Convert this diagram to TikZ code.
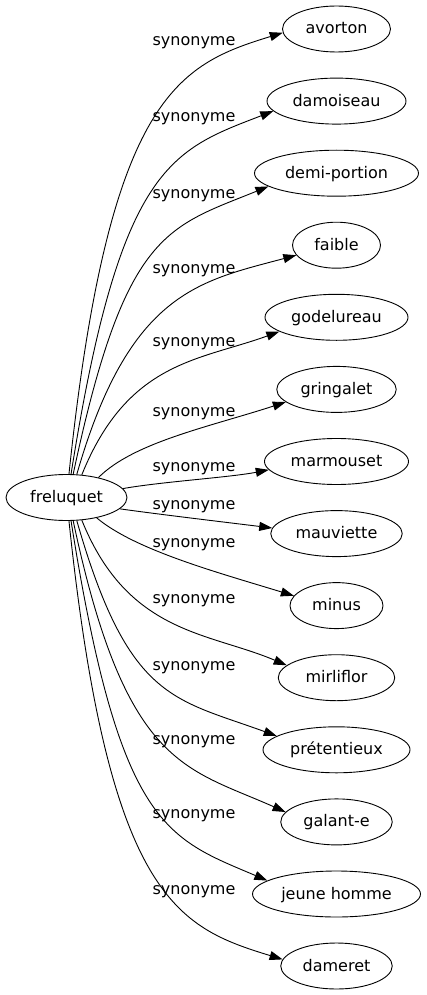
\documentclass[tikz,border=0pt]{standalone}
\usepackage{fontspec}
\setmainfont{DejaVu Sans}
\usetikzlibrary{shapes.geometric,arrows.meta}
\begin{document}
\begin{tikzpicture}[x=1pt,y=1pt,
  every node/.style={font=\fontsize{16}{19}\selectfont},
  term/.style={draw, ellipse, line width=0.9pt, minimum height=46pt, inner sep=0pt, text height=11pt, text depth=1pt},
  rel/.style={anchor=base, inner sep=0pt},
  link/.style={line width=0.9pt, -{Triangle[length=13pt,width=9pt]}}]
\useasboundingbox (0,0) rectangle (427,-995);
\node[term, minimum width=121pt] (f) at (66.5,-497.5) {freluquet};
\node[term, minimum width=108pt] (t0) at (336.5,-29) {avorton};
\node[term, minimum width=139pt] (t1) at (336.5,-101.1) {damoiseau};
\node[term, minimum width=164pt] (t2) at (336.5,-173.2) {demi-portion};
\node[term, minimum width=88pt] (t3) at (336.5,-245.2) {faible};
\node[term, minimum width=143pt] (t4) at (336.5,-317.3) {godelureau};
\node[term, minimum width=119.5pt] (t5) at (336.5,-389.4) {gringalet};
\node[term, minimum width=144pt] (t6) at (336.5,-461.5) {marmouset};
\node[term, minimum width=131.5pt] (t7) at (336.5,-533.6) {mauviette};
\node[term, minimum width=93pt] (t8) at (336.5,-605.6) {minus};
\node[term, minimum width=116.5pt] (t9) at (336.5,-677.7) {mirliflor};
\node[term, minimum width=147pt] (t10) at (336.5,-749.8) {prétentieux};
\node[term, minimum width=111.5pt] (t11) at (336.5,-821.9) {galant-e};
\node[term, minimum width=168pt] (t12) at (336.5,-894) {jeune homme};
\node[term, minimum width=111.5pt] (t13) at (336.5,-966) {dameret};

\draw[link] (f.84) to[out=84,in=197,out distance=380pt,in distance=110pt] (t0.184);
\draw[link] (f.79) to[out=81,in=201,out distance=312pt,in distance=110pt] (t1.189.5);
\draw[link] (f.74) to[out=78,in=202,out distance=248pt,in distance=110pt] (t2.191.7);
\draw[link] (f.66) to[out=74,in=195,out distance=190pt,in distance=100pt] (t3.194);
\draw[link] (f.56) to[out=68,in=200,out distance=123pt,in distance=85pt] (t4.194.7);
\draw[link] (f.32) to[out=45,in=198,out distance=50pt,in distance=80pt] (t5.194.7);
\draw[link] (f.9) to[out=10,in=191,out distance=40pt,in distance=40pt] (t6.187.3);
\draw[link] (f.-12) to[out=-8,in=173,out distance=40pt,in distance=40pt] (t7.175.4);
\draw[link] (f.-34) to[out=-40,in=163,out distance=50pt,in distance=80pt] (t8.167.2);
\draw[link] (f.-56) to[out=-68,in=157,out distance=123pt,in distance=85pt] (t9.166.9);
\draw[link] (f.-66) to[out=-74,in=160,out distance=187pt,in distance=110pt] (t10.167.7);
\draw[link] (f.-74) to[out=-78,in=156,out distance=252pt,in distance=110pt] (t11.169.3);
\draw[link] (f.-79) to[out=-81,in=157,out distance=310pt,in distance=110pt] (t12.169.4);
\draw[link] (f.-84) to[out=-84,in=163,out distance=380pt,in distance=110pt] (t13.173.8);

\node[rel] (l0) at (194,-45.5) {synonyme};
\node[rel] (l1) at (194,-121.5) {synonyme};
\node[rel] (l2) at (194,-198.5) {synonyme};
\node[rel] (l3) at (194,-273.5) {synonyme};
\node[rel] (l4) at (194,-346.5) {synonyme};
\node[rel] (l5) at (194,-416.5) {synonyme};
\node[rel] (l6) at (194,-471.5) {synonyme};
\node[rel] (l7) at (194,-509.5) {synonyme};
\node[rel] (l8) at (194,-547) {synonyme};
\node[rel] (l9) at (194,-603) {synonyme};
\node[rel] (l10) at (194,-670.5) {synonyme};
\node[rel] (l11) at (194,-744) {synonyme};
\node[rel] (l12) at (194,-818) {synonyme};
\node[rel] (l13) at (194,-894) {synonyme};
\end{tikzpicture}
\end{document}
